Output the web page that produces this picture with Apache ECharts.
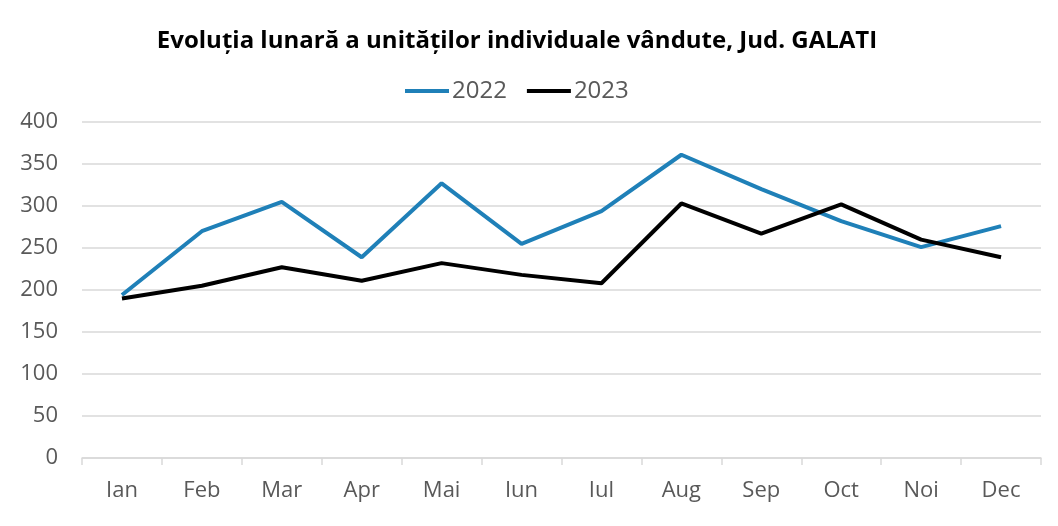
<!DOCTYPE html>
<html>
<head>
<meta charset="utf-8">
<script src="https://cdn.jsdelivr.net/npm/echarts@6/dist/echarts.min.js"></script>
<style>
html,body{margin:0;padding:0;background:#fff;}
#c{width:1058px;height:526px;}
</style>
</head>
<body>
<div id="c"></div>
<script>
const categories = ['Ian','Feb','Mar','Apr','Mai','Iun','Iul','Aug','Sep','Oct','Noi','Dec'];
const values2022 = [194, 270, 305, 239, 327, 255, 294, 361, 320, 282, 251, 276];
const values2023 = [190, 205, 227, 211, 232, 218, 208, 303, 267, 302, 260, 239];
const seriesNames = ['2022', '2023'];

const chart = echarts.init(document.getElementById('c'), null, {renderer: 'canvas'});
const font = 'Open Sans, Noto Sans, sans-serif';
chart.setOption({
  animation: false,
  backgroundColor: '#fff',
  title: {
    text: 'Evoluția lunară a unităților individuale vândute, Jud. GALATI',
    left: 512, top: 24, textAlign: 'center',
    textStyle: {fontFamily: font, fontSize: 24, fontWeight: 'bold', color: '#000'}
  },
  legend: {
    data: seriesNames,
    top: 74, left: 400,
    itemWidth: 44, itemHeight: 4, itemGap: 20,
    icon: 'rect',
    textStyle: {fontFamily: font, fontSize: 24, color: '#595959', padding: [0,0,0,-2]}
  },
  grid: {left: 82, right: 17, top: 122, bottom: 68},
  xAxis: {
    type: 'category',
    data: categories,
    boundaryGap: true,
    axisLine: {lineStyle: {color: '#d9d9d9', width: 1.5}},
    axisTick: {show: true, length: 7, lineStyle: {color: '#d9d9d9', width: 1.5}},
    axisLabel: {fontFamily: font, fontSize: 22, color: '#595959', margin: 22}
  },
  yAxis: {
    type: 'value',
    min: 0, max: 400, interval: 50,
    axisLine: {show: false},
    axisTick: {show: false},
    splitLine: {lineStyle: {color: '#d9d9d9', width: 1.5}},
    axisLabel: {fontFamily: font, fontSize: 22, color: '#595959', margin: 24}
  },
  series: [
    {name: seriesNames[0], type: 'line', data: values2022, symbol: 'none',
     lineStyle: {color: '#1f80b8', width: 4}, itemStyle: {color: '#1f80b8'}},
    {name: seriesNames[1], type: 'line', data: values2023, symbol: 'none',
     lineStyle: {color: '#000000', width: 4}, itemStyle: {color: '#000000'}}
  ]
});
</script>
</body>
</html>
